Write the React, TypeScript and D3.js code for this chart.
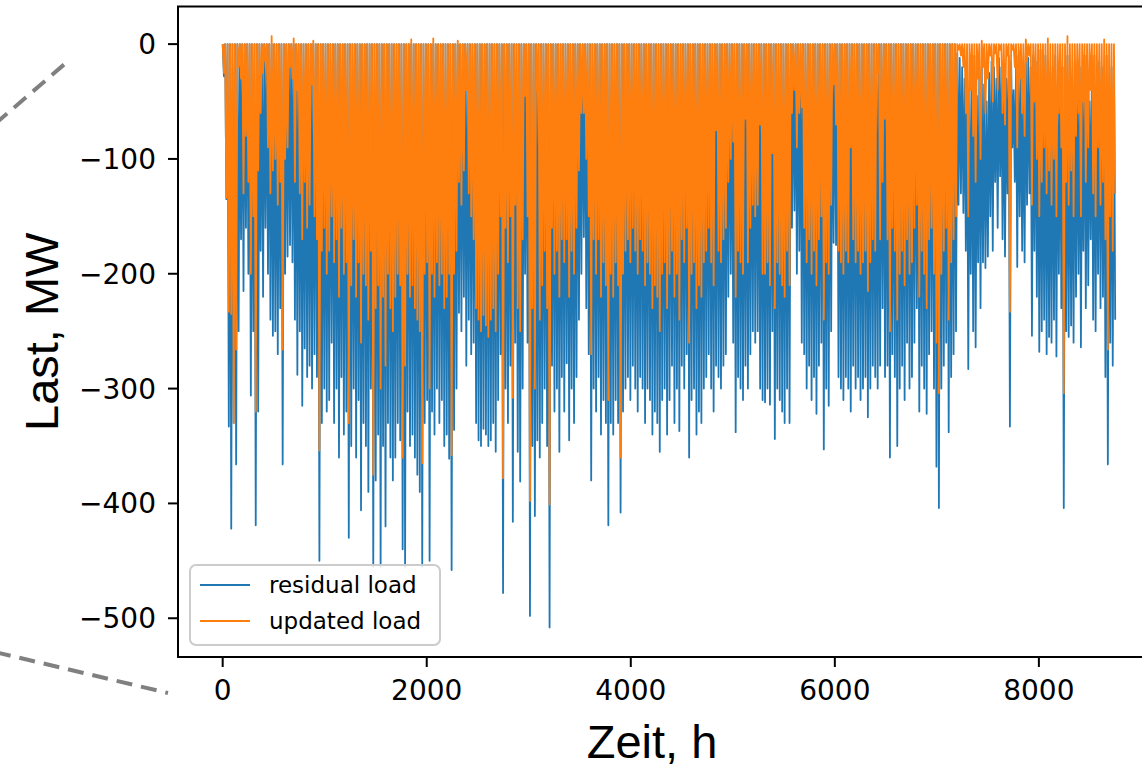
import React from "react";
import * as d3 from "d3";

// daily minimum (midday) of the hourly series, MW
const residualDailyMin = [
  -28, -135, -333, -422, -330, -366, -250, -170, -215, -160,
  -200, -306, -250, -419, -320, -180, -220, -160, -200, -240,
  -254, -250, -270, -230, -366, -200, -185, -175, -190, -240,
  -288, -250, -315, -265, -290, -280, -300, -270, -290, -450,
  -330, -300, -320, -310, -260, -330, -300, -360, -290, -340,
  -320, -430, -350, -300, -360, -310, -406, -330, -350, -390,
  -300, -455, -380, -340, -455, -350, -420, -330, -360, -380,
  -360, -330, -345, -440, -455, -320, -350, -340, -360, -375,
  -390, -455, -330, -310, -450, -320, -340, -300, -330, -310,
  -350, -340, -361, -458, -336, -300, -234, -250, -220, -280,
  -240, -270, -260, -330, -345, -350, -335, -340, -350, -345,
  -330, -355, -310, -270, -478, -300, -330, -280, -416, -260,
  -355, -381, -300, -200, -260, -498, -350, -411, -345, -360,
  -330, -300, -350, -508, -280, -320, -300, -355, -290, -320,
  -278, -345, -300, -330, -290, -240, -200, -168, -230, -270,
  -380, -300, -320, -290, -340, -310, -330, -419, -330, -340,
  -310, -330, -408, -320, -300, -290, -310, -280, -300, -320,
  -290, -300, -330, -300, -310, -340, -320, -330, -355, -310,
  -300, -340, -310, -280, -330, -300, -337, -280, -300, -270,
  -360, -310, -300, -340, -320, -330, -300, -290, -270, -300,
  -320, -280, -290, -300, -280, -270, -220, -200, -260, -338,
  -290, -300, -310, -280, -300, -270, -250, -260, -250, -300,
  -310, -312, -300, -314, -250, -344, -300, -310, -320, -330,
  -300, -330, -160, -145, -200, -180, -260, -270, -300, -280,
  -310, -290, -322, -280, -260, -353, -300, -315, -250, -173,
  -175, -290, -300, -310, -290, -300, -320, -280, -300, -290,
  -310, -300, -290, -325, -300, -280, -290, -300, -280, -230,
  -290, -280, -360, -270, -290, -350, -300, -280, -310, -260,
  -300, -290, -260, -230, -320, -280, -300, -322, -270, -250,
  -300, -368, -404, -300, -280, -260, -338, -290, -270, -250,
  -140, -130, -147, -180, -283, -200, -250, -264, -190, -230,
  -190, -195, -185, -150, -180, -120, -160, -115, -170, -185,
  -130, -333, -90, -120, -194, -150, -180, -190, -140, -130,
  -254, -180, -220, -268, -250, -240, -270, -255, -260, -240,
  -272, -200, -230, -404, -250, -255, -245, -260, -220, -200,
  -264, -180, -230, -210, -170, -240, -250, -200, -230, -220,
  -290, -366, -260, -280, -240,
];

const updatedDailyMin = [
  -25, -134, -233, -235, -330, -266, -20, -30, -130, -80,
  -120, -200, -150, -320, -110, -60, -25, -15, -90, -130,
  -110, -100, -140, -120, -266, -100, -90, -20, -30, -120,
  -40, -130, -170, -120, -160, -140, -35, -150, -170, -354,
  -180, -160, -200, -180, -150, -190, -170, -220, -160, -200,
  -190, -330, -210, -170, -220, -190, -260, -200, -210, -240,
  -180, -375, -230, -210, -300, -220, -280, -200, -230, -250,
  -220, -200, -210, -360, -280, -200, -220, -210, -230, -240,
  -250, -365, -200, -190, -300, -200, -220, -190, -210, -200,
  -230, -220, -200, -358, -200, -180, -120, -140, -110, -40,
  -130, -150, -170, -230, -240, -250, -236, -245, -255, -240,
  -230, -250, -200, -150, -378, -160, -190, -150, -308, -140,
  -230, -250, -170, -45, -150, -398, -230, -300, -40, -240,
  -210, -180, -230, -401, -160, -200, -180, -220, -170, -190,
  -170, -220, -180, -200, -160, -110, -60, -60, -100, -150,
  -270, -170, -200, -170, -220, -190, -210, -310, -200, -220,
  -190, -210, -360, -200, -180, -170, -190, -160, -180, -200,
  -170, -180, -210, -190, -200, -230, -210, -220, -250, -200,
  -190, -230, -200, -180, -220, -200, -240, -170, -190, -160,
  -260, -200, -190, -230, -210, -220, -190, -180, -160, -190,
  -210, -75, -180, -190, -170, -160, -120, -100, -85, -220,
  -180, -190, -200, -65, -190, -160, -140, -150, -140, -70,
  -200, -200, -190, -210, -95, -230, -190, -200, -210, -220,
  -180, -210, -60, -40, -90, -60, -55, -160, -190, -170,
  -200, -180, -210, -170, -150, -240, -190, -200, -140, -35,
  -70, -180, -190, -200, -180, -190, -90, -170, -190, -180,
  -200, -190, -180, -215, -190, -170, -180, -25, -170, -120,
  -65, -170, -250, -160, -180, -240, -200, -180, -210, -170,
  -200, -190, -160, -140, -220, -180, -200, -230, -170, -160,
  -200, -260, -304, -200, -180, -160, -240, -190, -170, -150,
  -5, -10, -20, -60, -150, -40, -80, -120, -30, -100,
  -20, -60, -30, -10, -50, -8, -40, -5, -60, -70,
  -10, -233, -5, -20, -90, -30, -60, -80, -15, -10,
  -140, -50, -100, -150, -120, -90, -130, -110, -140, -100,
  -150, -60, -90, -304, -120, -140, -110, -150, -80, -60,
  -150, -50, -120, -90, -40, -130, -150, -90, -140, -120,
  -170, -266, -150, -180, -130,
];

// night levels that differ from 0: [day, MW]
const residualNightLevels: [number, number][] = [
  [300, -8], [301, -12], [302, -20], [303, -30], [304, -15], [305, -40], [306, -25],
  [307, -10], [308, -45], [309, -30], [310, -20], [311, -35], [312, -50], [313, -25],
  [314, -15], [315, -20], [316, -30], [317, -12], [318, -20], [319, -25], [320, -30],
  [321, -10], [322, -15], [323, -40], [324, -20], [325, -10], [326, -25], [327, -30],
  [328, -8], [329, -12], [330, -20], [331, -10], [332, -15], [333, -20], [334, -5],
  [335, -30], [336, -10], [337, -15], [338, -25], [339, -20], [340, -10], [341, -35],
  [342, -15], [343, -20], [344, -30], [345, -10], [346, -25], [347, -40], [348, -15],
  [349, -30], [350, -20], [351, -45], [352, -10], [353, -30], [354, -50], [355, -20],
  [356, -10], [357, -35], [358, -15], [359, -20], [360, -25], [361, -10], [362, -30],
  [363, -20], [364, -15],
];
const updatedNightLevels: [number, number][] = [
  [20, 7], [29, 5], [37, 3], [77, 4], [86, 5], [96, 3],
  [310, 3], [328, 4], [337, 5], [345, 7], [360, 4],
];

const seriesLabels = ["residual load", "updated load"];
const seriesColors = ["#1f77b4", "#ff7f0e"];
const xTickValues = [0, 2000, 4000, 6000, 8000];
const yTickValues = [0, -100, -200, -300, -400, -500];
const xLabel = "Zeit, h";
const yLabel = "Last, MW";

const LAST_HOUR = 8759;

const width = 1142;
const height = 770;
const plot = { left: 178, top: 6.5, bottom: 657, right: 1161 };

function hourly(mins: number[], nights: [number, number][]) {
  const night = new Map(nights);
  const pts: { h: number; v: number }[] = [];
  mins.forEach((v, d) => {
    pts.push({ h: d * 24, v: night.get(d) ?? 0 });
    pts.push({ h: d * 24 + 12, v });
  });
  return pts;
}

export default function App() {
  const residual = hourly(residualDailyMin, residualNightLevels);
  const updated = hourly(updatedDailyMin, updatedNightLevels);
  const all = residual.concat(updated).map((p) => p.v);

  const yMin = d3.min(all)!;
  const yMax = d3.max(all)!;
  const yPad = (yMax - yMin) * 0.05;
  const xPad = LAST_HOUR * 0.05;

  const x = d3.scaleLinear().domain([-xPad, LAST_HOUR + xPad]).range([plot.left, plot.right]);
  const y = d3.scaleLinear().domain([yMin - yPad, yMax + yPad]).range([plot.bottom, plot.top]);

  const line = d3
    .line<{ h: number; v: number }>()
    .x((p) => x(p.h))
    .y((p) => y(p.v));

  const fmt = d3.format("d");
  const tickFont = "'DejaVu Sans', sans-serif";
  const labelFont = "'Liberation Sans', Arial, sans-serif";

  return (
    <div style={{ position: "absolute", left: 0, top: 0 }}>
      <svg width={width} height={height} style={{ display: "block", background: "#fff" }}>
        <g stroke="#808080" strokeWidth={4} strokeDasharray="16 9" fill="none">
          <line x1={-5} y1={124} x2={67} y2={62} />
          <line x1={-5} y1={652} x2={168} y2={693} />
        </g>

        <path d={line(residual)!} fill="none" stroke={seriesColors[0]} strokeWidth={1.8} strokeLinejoin="round" />
        <path d={line(updated)!} fill="none" stroke={seriesColors[1]} strokeWidth={1.8} strokeLinejoin="round" />

        <rect
          x={plot.left}
          y={plot.top}
          width={plot.right - plot.left}
          height={plot.bottom - plot.top}
          fill="none"
          stroke="#000"
          strokeWidth={2}
        />

        {yTickValues.map((t) => (
          <g key={"y" + t}>
            <line x1={plot.left - 10} x2={plot.left} y1={y(t)} y2={y(t)} stroke="#000" strokeWidth={2} />
            <text
              x={plot.left - 22}
              y={y(t) + 10}
              textAnchor="end"
              fontFamily={tickFont}
              fontSize={28}
              fill="#000"
            >
              {fmt(t).replace("-", "\u2212")}
            </text>
          </g>
        ))}

        {xTickValues.map((t) => (
          <g key={"x" + t}>
            <line x1={x(t)} x2={x(t)} y1={plot.bottom} y2={plot.bottom + 10} stroke="#000" strokeWidth={2} />
            <text x={x(t)} y={700} textAnchor="middle" fontFamily={tickFont} fontSize={28} fill="#000">
              {fmt(t)}
            </text>
          </g>
        ))}

        <text x={652} y={758} textAnchor="middle" fontFamily={labelFont} fontSize={47} fill="#000">
          {xLabel}
        </text>
        <text
          transform={`translate(58,${(plot.top + plot.bottom) / 2}) rotate(-90)`}
          textAnchor="middle"
          fontFamily={labelFont}
          fontSize={47}
          fill="#000"
        >
          {yLabel}
        </text>

        <g>
          <rect x={190} y={565} width={250} height={80} rx={6} fill="#fff" fillOpacity={0.8} stroke="#cccccc" strokeWidth={2} />
          {seriesLabels.map((name, i) => (
            <g key={name}>
              <line x1={200} x2={250} y1={585 + i * 36} y2={585 + i * 36} stroke={seriesColors[i]} strokeWidth={1.8} />
              <text x={269} y={585 + i * 36 + 8} fontFamily={tickFont} fontSize={23} fill="#000">
                {name}
              </text>
            </g>
          ))}
        </g>
      </svg>
    </div>
  );
}
